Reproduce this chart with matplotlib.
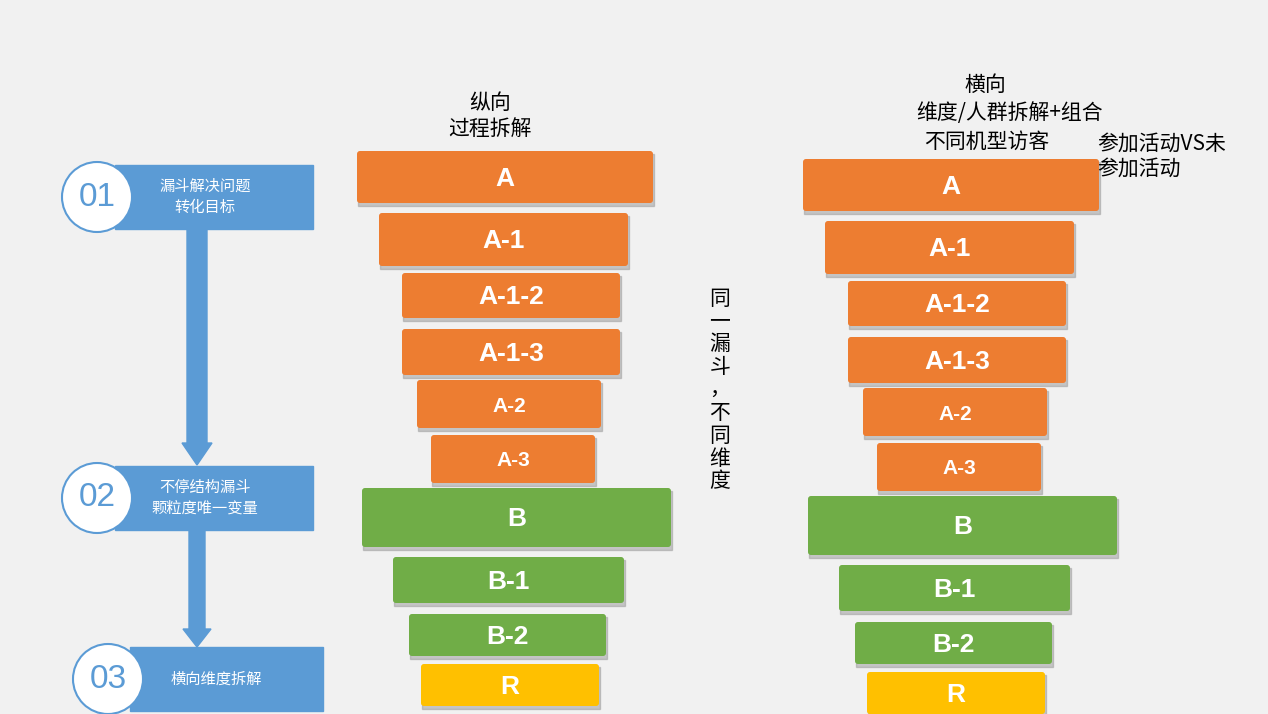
import matplotlib.pyplot as plt
from matplotlib.patches import FancyBboxPatch, Circle, Rectangle, FancyArrow

plt.rcParams['font.family'] = ['Noto Sans CJK SC', 'DejaVu Sans']

labels = ["A", "A-1", "A-1-2", "A-1-3", "A-2", "A-3", "B", "B-1", "B-2", "R"]
left_x = [357, 379, 402, 402, 417, 431, 362, 393, 409, 421]
widths = [296, 249, 218, 218, 184, 164, 309, 231, 197, 178]
tops = [151, 213, 273, 329, 380, 435, 488, 557, 614, 664]
heights = [52, 53, 45, 46, 48, 48, 59, 46, 42, 42]
colors = ["#ED7D31"] * 6 + ["#70AD47"] * 3 + ["#FFC000"]
sizes = [19, 19, 19, 19, 15, 15, 19, 19, 19, 19]

steps = ["01", "02", "03"]
step_text = ["漏斗解决问题\n转化目标", "不停结构漏斗\n颗粒度唯一变量", "横向维度拆解"]
step_y = [197, 498, 679]

fig = plt.figure(figsize=(12.68, 7.14), dpi=100)
ax = fig.add_axes([0, 0, 1, 1])
ax.set_xlim(0, 1268)
ax.set_ylim(714, 0)
ax.axis('off')
fig.patch.set_facecolor('#f1f1f1')

def funnel(dx, dy):
    for lab, x, w, t, h, c, s in zip(labels, left_x, widths, tops, heights, colors, sizes):
        ax.add_patch(Rectangle((x + dx + 1, t + dy + 3), w, h, color='#999999', alpha=0.5, zorder=1))
        ax.add_patch(FancyBboxPatch((x + dx, t + dy), w, h, boxstyle="round,pad=0,rounding_size=3",
                                    fc=c, ec='none', zorder=2))
        ax.text(x + dx + w / 2, t + dy + h / 2 + 2, lab, color='white', fontsize=s, weight='bold',
                family='Liberation Sans', ha='center', va='center', zorder=3)

funnel(0, 0)
funnel(446, 8)

# left step boxes
box_x = [115, 115, 130]
box_w = [198, 198, 193]
circ_x = [97, 97, 108]
for n, txt, y, bx, bw, cx in zip(steps, step_text, step_y, box_x, box_w, circ_x):
    ax.add_patch(Rectangle((bx, y - 32), bw, 64, color='#5B9BD5', zorder=1))
    ax.add_patch(Circle((cx, y), 35, fc='white', ec='#5B9BD5', lw=1.5, zorder=2))
    ax.text(cx, y, n, color='#5B9BD5', fontsize=24, family='Liberation Sans', ha='center', va='center', zorder=3)
    ax.text(cx + 108, y, txt, color='white', fontsize=11, ha='center', va='center', linespacing=1.3, zorder=3)

ax.add_patch(FancyArrow(197, 229, 0, 236, width=20, head_width=30, head_length=22,
                        length_includes_head=True, color='#5B9BD5', zorder=1))
ax.add_patch(FancyArrow(197, 530, 0, 117, width=16, head_width=28, head_length=18,
                        length_includes_head=True, color='#5B9BD5', zorder=1))

ax.text(490, 116, "纵向\n过程拆解", fontsize=15, ha='center', va='center', linespacing=1.2)
ax.text(985, 85, "横向", fontsize=15, ha='center', va='center')
ax.text(1010, 113, "维度/人群拆解+组合", fontsize=15, ha='center', va='center')
ax.text(987, 142, "不同机型访客", fontsize=15, ha='center', va='center')
ax.text(1097, 156, "参加活动VS未\n参加活动", fontsize=15, ha='left', va='center', linespacing=1.2)
ax.text(720, 390, "同\n一\n漏\n斗\n，\n不\n同\n维\n度", fontsize=15, ha='center', va='center',
        linespacing=1.05)

fig.savefig("out.png", dpi=100, facecolor=fig.get_facecolor())
